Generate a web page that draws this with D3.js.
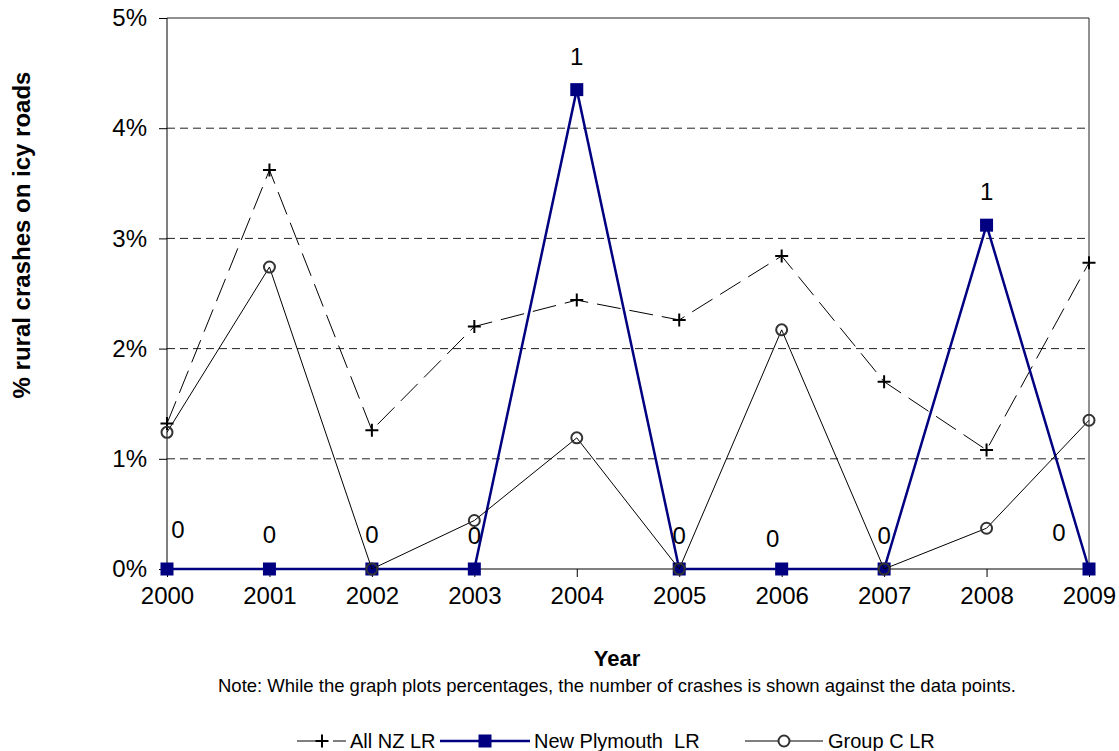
<!DOCTYPE html>
<html>
<head>
<meta charset="utf-8">
<script src="https://cdn.jsdelivr.net/npm/d3@7"></script>
<style>
  body { margin: 0; background: #fff; }
  text { font-family: Arial, "Liberation Sans", sans-serif; fill: #000; }
</style>
</head>
<body>
<svg id="chart" width="1119" height="751"></svg>
<script>
const years = [2000, 2001, 2002, 2003, 2004, 2005, 2006, 2007, 2008, 2009];
const allNZ = [1.32, 3.62, 1.26, 2.20, 2.44, 2.26, 2.84, 1.70, 1.08, 2.78];
const newPlymouth = [0, 0, 0, 0, 4.35, 0, 0, 0, 3.12, 0];
const groupC = [1.24, 2.74, 0, 0.44, 1.19, 0, 2.17, 0, 0.37, 1.35];
const crashCounts = ['0', '0', '0', '0', '1', '0', '0', '0', '1', '0'];
const yTicks = [0, 1, 2, 3, 4, 5];

const svg = d3.select('#chart');
const plot = {left: 167, right: 1089, top: 18, bottom: 569};

const x = d3.scalePoint().domain(years).range([plot.left, plot.right]);
const y = d3.scaleLinear().domain([0, 5]).range([plot.bottom, plot.top]);

// gridlines
svg.append('g')
  .selectAll('line')
  .data(yTicks.filter(t => t > 0 && t < 5))
  .enter()
  .append('line')
  .attr('x1', plot.left).attr('x2', plot.right)
  .attr('y1', d => y(d)).attr('y2', d => y(d))
  .style('stroke', '#222')
  .style('stroke-dasharray', '8,5');

// frame (top + right)
svg.append('path')
  .attr('d', `M${plot.left},${plot.top}H${plot.right}V${plot.bottom}`)
  .style('fill', 'none')
  .style('stroke', '#222');

// axes
const yAxis = svg.append('g')
  .attr('transform', 'translate(' + plot.left + ',0)')
  .call(d3.axisLeft(y).tickValues(yTicks).tickFormat(d => d + '%').tickSize(8).tickPadding(12));
const xAxis = svg.append('g')
  .attr('transform', 'translate(0,' + plot.bottom + ')')
  .call(d3.axisBottom(x).tickSize(8).tickPadding(10));
[yAxis, xAxis].forEach(a => {
  a.select('.domain').style('stroke', '#000');
  a.selectAll('.tick line').style('stroke', '#000');
  a.selectAll('.tick text').style('font-size', '24px').style('font-family', 'Arial, "Liberation Sans", sans-serif');
});
yAxis.select('.domain').attr('d', `M0,${plot.top}V${plot.bottom}`);
xAxis.select('.domain').attr('d', `M${plot.left},0H${plot.right}`);

const lineGen = d3.line().x((d, i) => x(years[i])).y(d => y(d));

// All NZ LR
svg.append('path')
  .datum(allNZ)
  .attr('d', lineGen)
  .style('fill', 'none')
  .style('stroke', '#000')
  .style('stroke-width', 1)
  .style('stroke-dasharray', '24,9');
svg.append('g')
  .selectAll('path')
  .data(allNZ)
  .enter()
  .append('path')
  .attr('d', (d, i) => {
    const cx = x(years[i]), cy = y(d);
    return `M${cx - 6.5},${cy}H${cx + 6.5}M${cx},${cy - 6.5}V${cy + 6.5}`;
  })
  .style('stroke', '#000')
  .style('stroke-width', 2);

// New Plymouth LR
svg.append('path')
  .datum(newPlymouth)
  .attr('d', lineGen)
  .style('fill', 'none')
  .style('stroke', '#000080')
  .style('stroke-width', 2.5);
svg.append('g')
  .selectAll('rect')
  .data(newPlymouth)
  .enter()
  .append('rect')
  .attr('x', (d, i) => x(years[i]) - 6.5)
  .attr('y', d => y(d) - 6.5)
  .attr('width', 13).attr('height', 13)
  .style('fill', '#000080');

// Group C LR
svg.append('path')
  .datum(groupC)
  .attr('d', lineGen)
  .style('fill', 'none')
  .style('stroke', '#000')
  .style('stroke-width', 1);
svg.append('g')
  .selectAll('circle')
  .data(groupC)
  .enter()
  .append('circle')
  .attr('cx', (d, i) => x(years[i]))
  .attr('cy', d => y(d))
  .attr('r', 5.5)
  .style('fill', 'none')
  .style('stroke', '#333')
  .style('stroke-width', 2);

// crash count labels (hand-nudged like the original)
const labelNudge = [[11, -39], [0, -34], [0, -34], [0, -33], [0, -33], [0, -33], [-9, -30], [0, -33], [0, -34], [-30, -36]];
svg.append('g')
  .selectAll('text')
  .data(crashCounts)
  .enter()
  .append('text')
  .attr('x', (d, i) => x(years[i]) + labelNudge[i][0])
  .attr('y', (d, i) => y(newPlymouth[i]) + labelNudge[i][1])
  .attr('dy', '0.35em')
  .attr('text-anchor', 'middle')
  .style('font-size', '24px')
  .text(d => d);

// axis titles
svg.append('text')
  .attr('x', 617).attr('y', 658)
  .attr('dy', '0.35em')
  .attr('text-anchor', 'middle')
  .style('font-size', '22px')
  .style('font-weight', 'bold')
  .text('Year');
svg.append('text')
  .attr('x', 617).attr('y', 686)
  .attr('dy', '0.35em')
  .attr('text-anchor', 'middle')
  .style('font-size', '18.5px')
  .text('Note: While the graph plots percentages, the number of crashes is shown against the data points.');
svg.append('text')
  .attr('transform', 'translate(22,235) rotate(-90)')
  .attr('dy', '0.35em')
  .attr('text-anchor', 'middle')
  .style('font-size', '24px')
  .style('font-weight', 'bold')
  .text('% rural crashes on icy roads');

// legend
const legY = 741;
const legend = svg.append('g');
legend.append('line')
  .attr('x1', 297).attr('x2', 346).attr('y1', legY).attr('y2', legY)
  .style('stroke', '#000').style('stroke-dasharray', '25,11');
legend.append('path')
  .attr('d', `M${315.5},${legY}H${328.5}M${322},${legY - 6.5}V${legY + 6.5}`)
  .style('stroke', '#000').style('stroke-width', 2);
legend.append('text').attr('x', 350).attr('y', legY).attr('dy', '0.35em')
  .style('font-size', '20px').text('All NZ LR');

legend.append('line')
  .attr('x1', 440).attr('x2', 530).attr('y1', legY).attr('y2', legY)
  .style('stroke', '#000080').style('stroke-width', 2.5);
legend.append('rect')
  .attr('x', 478.5).attr('y', legY - 6.5).attr('width', 13).attr('height', 13)
  .style('fill', '#000080');
legend.append('text').attr('x', 534).attr('y', legY).attr('dy', '0.35em')
  .style('font-size', '20px').style('white-space', 'pre').text('New Plymouth  LR');

legend.append('line')
  .attr('x1', 745).attr('x2', 823).attr('y1', legY).attr('y2', legY)
  .style('stroke', '#000');
legend.append('circle')
  .attr('cx', 784).attr('cy', legY).attr('r', 5.5)
  .style('fill', '#fff').style('stroke', '#333').style('stroke-width', 2);
legend.append('text').attr('x', 828).attr('y', legY).attr('dy', '0.35em')
  .style('font-size', '20px').text('Group C LR');
</script>
</body>
</html>
